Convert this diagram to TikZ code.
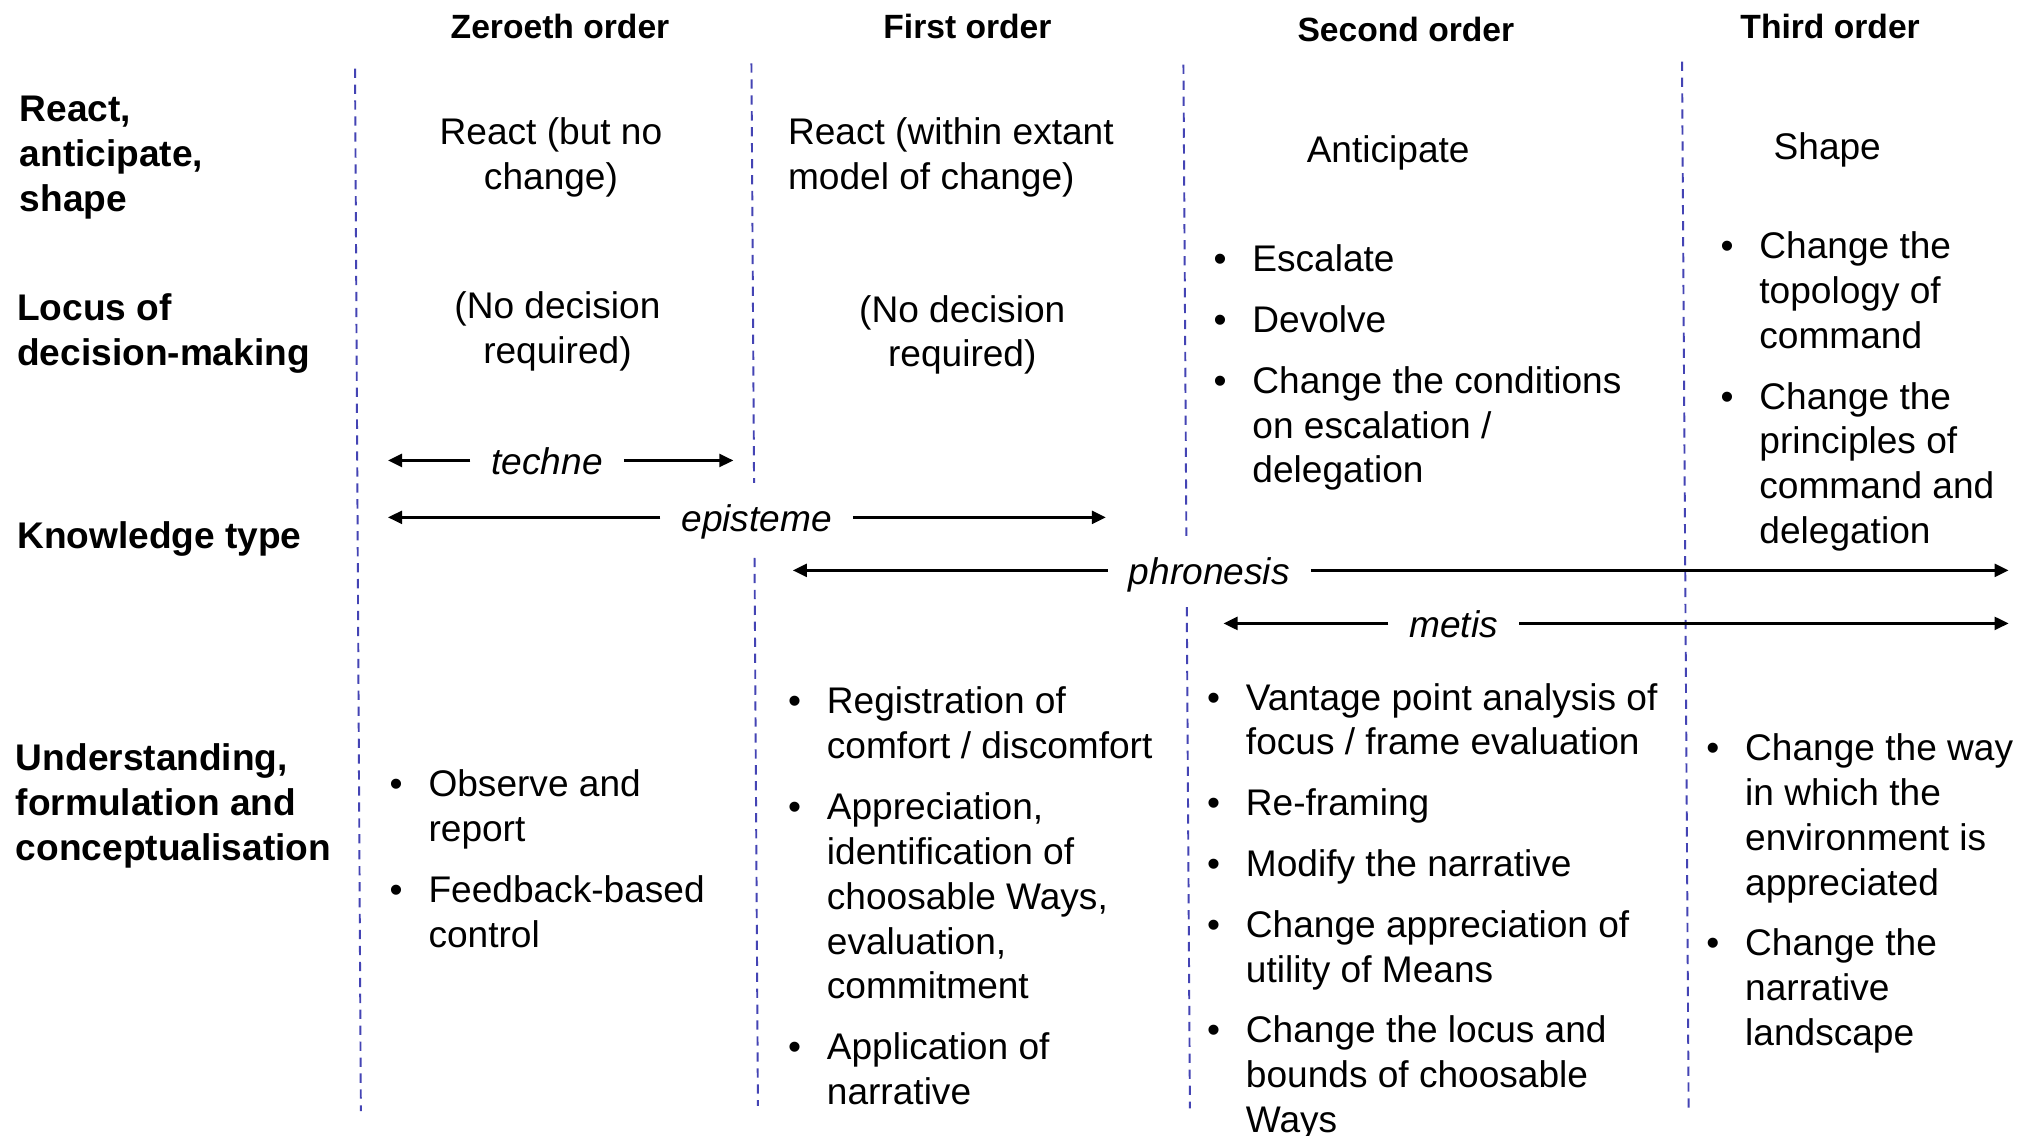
\documentclass[tikz,border=0pt]{standalone}
\usepackage{fontspec}
\setmainfont{Liberation Sans}
\usetikzlibrary{arrows.meta}

\definecolor{gridblue}{RGB}{68,68,180}

% type sizes
\newcommand{\bodysize}{\fontsize{17.2pt}{20.8pt}\selectfont}
\newcommand{\headsize}{\fontsize{15.6pt}{18.7pt}\selectfont\bfseries}

% stacked lines, first baseline is the node baseline
\newcommand{\textrows}[2]{\begin{tabular}[t]{@{}#1@{}}#2\end{tabular}}
% bullet with hanging indent and the gap between items
\newcommand{\bmark}{\makebox[18pt][l]{•}}
\newcommand{\itemgap}{\\[7.4pt]}

\begin{document}
\begin{tikzpicture}[x=0.6pt,y=-0.6pt,
  head/.style={inner sep=0pt, font=\headsize, anchor=base},
  rowlabel/.style={inner sep=0pt, font=\bodysize\bfseries, anchor=base west},
  cell/.style={inner sep=0pt, font=\bodysize},
  colsep/.style={draw=gridblue, line width=0.9pt, dash pattern=on 4.3pt off 3.1pt},
  kind/.style={font=\bodysize\itshape, text height=14pt, text depth=0.8pt,
               inner xsep=9.6pt, inner ysep=8.6pt, fill=white},
  span/.style={-{Triangle[length=6.5pt,width=6pt]}, line width=1.2pt}
]
\useasboundingbox (0,0) rectangle (1568,878);
\fill[white] (0,0) rectangle (1568,878);

% column separators
\draw[colsep] (274.5,53) -- (279,859);
\draw[colsep] (581,49) -- (586,855);
\draw[colsep] (915,50) -- (920,857);
\draw[colsep] (1300.5,47.6) -- (1305.6,859);

% column headings
\node[head] (h0) at (433,30) {Zeroeth order};
\node[head] (h1) at (748,30) {First order};
\node[head] (h2) at (1087,32) {Second order};
\node[head] (h3) at (1415,30) {Third order};

% row headings
\node[rowlabel] (rowA) at (15,94) {\textrows{l}{React,\\anticipate,\\shape}};
\node[rowlabel] (rowB) at (13,248) {\textrows{l}{Locus of\\decision-making}};
\node[rowlabel] (rowC) at (13,424) {Knowledge type};
\node[rowlabel] (rowD) at (12,596) {\textrows{l}{Understanding,\\formulation and\\conceptualisation}};

% zeroeth order
\node[cell, anchor=base] (z1) at (426,112) {\textrows{c}{React (but no\\change)}};
\node[cell, anchor=base] (z2) at (431,246) {\textrows{c}{(No decision\\required)}};
\node[cell, anchor=base west] (z4) at (301,616) {\textrows{l@{}l}{%
  \bmark & Observe and\\ & report\itemgap
  \bmark & Feedback-based\\ & control}};

% first order
\node[cell, anchor=base west] (f1) at (609,112) {\textrows{l}{React (within extant\\model of change)}};
\node[cell, anchor=base] (f2) at (744,249) {\textrows{c}{(No decision\\required)}};
\node[cell, anchor=base west] (f4) at (609,552) {\textrows{l@{}l}{%
  \bmark & Registration of\\ & comfort / discomfort\itemgap
  \bmark & Appreciation,\\ & identification of\\ & choosable Ways,\\ & evaluation,\\ & commitment\itemgap
  \bmark & Application of\\ & narrative}};

% second order
\node[cell, anchor=base west] (s1) at (1010,126) {Anticipate};
\node[cell, anchor=base west] (s2) at (938,210) {\textrows{l@{}l}{%
  \bmark & Escalate\itemgap
  \bmark & Devolve\itemgap
  \bmark & Change the conditions\\ & on escalation /\\ & delegation}};
\node[cell, anchor=base west] (s4) at (933,549) {\textrows{l@{}l}{%
  \bmark & Vantage point analysis of\\ & focus / frame evaluation\itemgap
  \bmark & Re-framing\itemgap
  \bmark & Modify the narrative\itemgap
  \bmark & Change appreciation of\\ & utility of Means\itemgap
  \bmark & Change the locus and\\ & bounds of choosable\\ & Ways}};

% third order
\node[cell, anchor=base west] (t1) at (1371,123) {Shape};
\node[cell, anchor=base west] (t2) at (1330,200) {\textrows{l@{}l}{%
  \bmark & Change the\\ & topology of\\ & command\itemgap
  \bmark & Change the\\ & principles of\\ & command and\\ & delegation}};
\node[cell, anchor=base west] (t4) at (1319,588) {\textrows{l@{}l}{%
  \bmark & Change the way\\ & in which the\\ & environment is\\ & appreciated\itemgap
  \bmark & Change the\\ & narrative\\ & landscape}};

% knowledge types and their spans
\node[kind] (techne) at (423,356) {techne};
\node[kind] (episteme) at (585,400) {episteme};
\node[kind] (phronesis) at (935,441) {phronesis};
\node[kind] (metis) at (1124,482) {metis};

\coordinate (tL) at (300,356);  \coordinate (tR) at (567,356);
\coordinate (eL) at (300,400);  \coordinate (eR) at (855,400);
\coordinate (pL) at (613,441);  \coordinate (pR) at (1553,441);
\coordinate (mL) at (946,482);  \coordinate (mR) at (1553,482);

\draw[span] (techne.west) -- (tL);
\draw[span] (techne.east) -- (tR);
\draw[span] (episteme.west) -- (eL);
\draw[span] (episteme.east) -- (eR);
\draw[span] (phronesis.west) -- (pL);
\draw[span] (phronesis.east) -- (pR);
\draw[span] (metis.west) -- (mL);
\draw[span] (metis.east) -- (mR);
\end{tikzpicture}
\end{document}
